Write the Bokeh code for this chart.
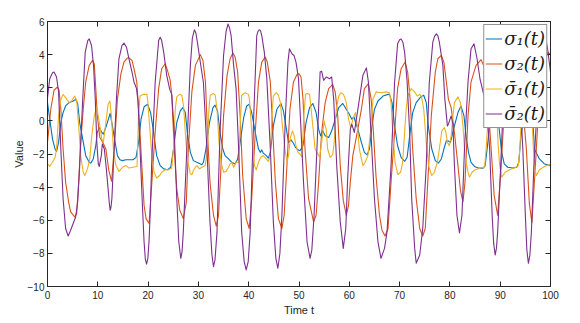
from bokeh.plotting import figure
from bokeh.models import LinearAxis, Range1d, FixedTicker, Legend, LegendItem
from bokeh.embed import file_html
from bokeh.resources import INLINE

# ---------------- data ----------------
t_sig1 = [0.0, 0.45, 1.0, 1.5, 1.8, 2.2, 2.65, 3.1, 3.6, 4.3, 5.1, 5.6, 6.0, 6.4, 7.0, 7.6, 8.3, 8.6, 9.1, 9.6,
          9.9, 10.3, 10.8, 11.1, 11.7, 12.45, 12.9, 13.45, 13.9, 14.4, 14.9, 15.6, 16.2, 17.0, 17.6, 18.1, 18.6, 19.2, 19.9, 20.5,
          21.1, 21.7, 22.4, 23.1, 23.9, 24.5, 25.05, 25.7, 26.4, 26.9, 27.4, 27.8, 28.4, 29.0, 30.0, 30.7, 31.0, 31.5, 32.2, 32.9,
          33.3, 33.8, 34.3, 34.85, 35.3, 36.0, 36.6, 37.3, 37.8, 38.3, 39.0, 39.6, 40.1, 40.6, 41.3, 41.95, 42.3, 42.6, 42.9, 43.5,
          43.9, 44.3, 44.9, 45.6, 46.4, 46.9, 47.5, 47.9, 48.4, 48.9, 49.3, 49.8, 50.2, 50.8, 51.4, 52.1, 52.75, 53.4, 53.9, 54.3,
          54.7, 55.2, 55.9, 56.5, 57.2, 57.9, 58.7, 59.4, 60.0, 60.5, 60.9, 61.7, 62.4, 63.0, 63.55, 64.0, 64.5, 65.0, 65.7, 66.7,
          67.7, 68.0, 68.5, 69.0, 69.6, 70.3, 71.0, 71.5, 72.0, 72.6, 73.3, 74.2, 74.8, 75.3, 75.7, 76.4, 77.1, 77.7, 78.3, 78.8,
          79.3, 79.6, 80.1, 80.9, 81.6, 82.2, 82.8, 83.2, 83.7, 84.2, 84.9, 85.6, 86.6, 87.0, 87.4, 88.0, 88.6, 89.2, 89.8, 90.3,
          90.8, 91.5, 92.5, 93.3, 93.7, 94.1, 94.7, 95.4, 95.9, 96.4, 96.8, 97.8, 98.8, 100.0]
sig1 = [1.1, 0.1, -1.1, -1.7, -1.85, -1.3, -0.1, 0.5, 0.9, 1.1, 1.2, 1.3, 1.05, -0.1, -1.1, -2.1, -2.5, -2.55, -2.3, -1.5,
        -0.7, -0.4, -0.7, -0.8, -0.3, 0.45, -0.3, -1.3, -2.1, -2.35, -2.4, -2.35, -2.35, -2.35, -2.2, -1.3, 0.1, 0.85, 1.0, 0.5,
        -0.7, -2.1, -2.7, -2.9, -2.95, -2.8, -1.7, -0.1, 0.6, 0.8, 0.5, -0.7, -1.9, -2.4, -2.55, -2.65, -2.5, -1.7, -0.1, 0.8,
        0.95, 0.6, -0.7, -1.7, -2.1, -2.3, -2.5, -2.6, -2.3, -1.3, 0.2, 0.9, 1.0, 0.5, -0.7, -1.7, -1.9, -1.75, -1.95, -2.1,
        -2.25, -1.9, -0.3, 0.7, 1.05, 0.6, -0.5, -1.3, -1.15, -1.35, -1.6, -1.75, -1.8, -1.5, -0.1, 0.8, 1.05, 0.5, -0.5, -0.9,
        -0.6, -0.9, -1.0, -0.6, 0.1, 0.8, 1.05, 0.7, 0.4, 0.1, 0.25, -0.5, -1.3, -1.9, -2.05, -1.7, -0.3, 0.7, 1.2, 1.5,
        1.6, 1.6, 1.1, -0.3, -1.5, -2.2, -2.45, -2.2, -0.9, 0.5, 1.1, 1.45, 1.55, 1.1, -0.3, -1.7, -2.4, -2.55, -2.3, -1.7,
        -1.2, -1.2, -1.3, -0.3, 0.5, 0.9, 0.3, -0.9, -1.9, -2.5, -2.75, -2.85, -2.85, -2.7, -1.7, 0.0, 0.8, 1.0, -0.5, -1.9,
        -2.6, -2.8, -2.85, -2.8, -2.5, -1.0, 0.3, 0.9, 1.0, 0.5, -1.7, -2.3, -2.6, -2.7]

t_sig2 = [0.0, 0.65, 1.3, 2.0, 2.3, 2.65, 3.1, 3.6, 4.2, 4.6, 5.4, 5.8, 6.2, 6.6, 7.1, 7.6, 8.3, 8.95, 9.3, 9.6,
          9.9, 10.4, 11.0, 11.6, 12.2, 12.75, 13.25, 13.9, 14.6, 15.2, 15.9, 16.2, 16.8, 17.2, 17.75, 18.2, 18.75, 19.2, 19.6, 20.2,
          20.75, 21.4, 22.1, 22.7, 23.4, 23.85, 24.4, 24.7, 25.2, 25.7, 26.3, 27.0, 27.6, 28.0, 28.7, 29.4, 30.4, 30.9, 31.4, 31.8,
          32.3, 33.0, 33.55, 34.0, 34.5, 35.0, 35.7, 36.3, 36.85, 37.3, 37.8, 38.3, 38.8, 39.5, 40.1, 40.6, 41.3, 41.95, 42.6, 43.3,
          43.7, 44.3, 44.8, 45.3, 45.9, 46.6, 47.05, 47.6, 48.2, 48.9, 49.6, 50.0, 50.4, 50.8, 51.2, 51.9, 52.9, 53.4, 53.9, 54.5,
          55.2, 55.9, 56.7, 57.2, 57.7, 58.2, 58.8, 59.4, 59.85, 60.2, 60.7, 61.2, 61.7, 62.4, 63.0, 63.8, 64.35, 64.8, 65.3, 66.0,
          66.5, 67.1, 67.7, 68.3, 69.0, 69.6, 70.3, 71.1, 71.6, 72.1, 72.6, 73.3, 74.0, 74.6, 75.1, 75.6, 76.3, 77.1, 77.6, 78.3,
          78.8, 79.3, 79.7, 80.25, 80.9, 81.6, 82.1, 82.6, 83.0, 83.6, 84.2, 85.2, 86.2, 86.9, 87.5, 88.2, 88.8, 89.5, 90.2, 90.6,
          91.2, 92.0, 92.8, 93.4, 94.0, 94.6, 95.2, 95.8, 96.3, 97.0, 97.4, 98.2, 99.0, 99.5, 100.0]
sig2 = [-1.3, 0.7, 1.85, 2.05, 1.85, 0.7, -1.7, -3.7, -4.9, -5.5, -5.8, -5.6, -3.7, -1.3, 0.7, 2.35, 3.35, 3.65, 3.45, 1.95,
        0.3, -1.0, -1.3, -1.7, -3.0, -3.65, -1.7, 1.3, 2.85, 3.55, 3.8, 3.8, 3.65, 3.15, 2.35, 0.3, -2.7, -5.1, -5.9, -6.2,
        -3.7, -0.7, 1.95, 3.15, 3.45, 3.05, 2.45, 1.55, -1.7, -4.1, -5.4, -5.9, -4.9, -1.7, 1.75, 3.35, 4.0, 3.65, 2.35, -0.7,
        -3.7, -5.7, -6.35, -5.7, -2.7, 0.3, 2.75, 3.75, 4.1, 3.85, 2.95, 0.3, -3.3, -5.9, -6.5, -4.7, -0.7, 2.35, 3.55, 3.85,
        3.55, 2.35, -0.7, -3.7, -5.9, -6.5, -5.7, -2.7, 0.7, 2.35, 2.8, 2.85, 2.65, 1.3, -1.7, -4.7, -6.1, -5.7, -3.7, -0.7,
        1.1, 1.95, 2.2, 1.75, 0.3, -2.7, -4.8, -5.7, -5.1, -3.7, -2.1, -1.3, -0.5, 0.7, 1.95, 2.25, 1.3, -0.7, -3.3, -5.7,
        -6.6, -6.95, -6.5, -3.7, -0.7, 1.95, 3.15, 3.55, 2.95, 1.3, -1.7, -4.7, -6.5, -6.95, -6.5, -3.7, 0.3, 2.95, 3.75, 3.95,
        3.55, 2.35, 1.3, 0.8, -0.7, -2.7, -4.2, -4.9, -3.7, 0.3, 2.35, 3.35, 3.7, 3.2, 1.5, -1.7, -4.5, -5.7, -2.7, -0.5,
        2.0, 3.4, 3.9, 3.6, 2.5, 0.5, -1.7, -5.0, -6.15, -2.7, -0.5, 2.3, 3.7, 4.15, 4.0]

t_sig1bar = [0.0, 0.45, 1.0, 1.5, 1.8, 2.2, 2.65, 3.1, 3.6, 4.3, 4.8, 5.4, 5.8, 6.2, 6.6, 7.1, 7.4, 7.95, 8.4, 8.8,
             9.3, 9.8, 10.4, 10.8, 11.1, 11.6, 12.05, 12.4, 12.7, 13.1, 13.6, 14.25, 14.9, 15.6, 16.2, 17.0, 17.8, 18.1, 18.4, 19.0,
             19.75, 19.9, 20.3, 20.75, 21.2, 21.7, 22.3, 22.7, 23.4, 24.1, 24.7, 25.05, 25.4, 25.7, 26.25, 26.7, 27.05, 27.4, 27.8, 28.4,
             28.7, 29.0, 29.4, 29.7, 30.2, 30.7, 31.35, 31.8, 32.1, 32.35, 33.0, 33.35, 33.7, 34.1, 34.5, 35.0, 35.5, 36.0, 36.3, 36.65,
             37.0, 37.5, 38.0, 38.3, 38.6, 39.3, 39.95, 40.1, 40.4, 40.8, 41.15, 41.5, 41.95, 42.4, 42.9, 43.5, 43.9, 44.3, 44.6, 44.9,
             45.5, 45.9, 46.3, 46.7, 47.2, 47.6, 47.9, 48.3, 48.7, 49.05, 49.4, 49.8, 50.2, 50.6, 50.95, 51.3, 51.6, 52.1, 52.55, 53.2,
             54.1, 54.75, 55.0, 55.4, 55.7, 56.2, 56.7, 57.0, 57.4, 57.9, 58.3, 58.85, 59.4, 59.85, 60.3, 60.8, 61.2, 61.6, 62.0, 62.7,
             63.15, 63.7, 64.2, 64.7, 65.35, 66.3, 67.3, 68.0, 68.3, 68.65, 69.1, 69.65, 70.2, 70.6, 71.0, 71.3, 71.6, 72.3, 73.0, 73.5,
             74.0, 74.4, 74.8, 75.3, 75.75, 76.4, 76.9, 77.5, 77.9, 78.4, 78.9, 79.2, 79.5, 79.9, 80.25, 80.6, 80.9, 81.6, 82.1, 82.6,
             83.0, 83.6, 83.9, 84.4, 85.0, 85.55, 86.1, 86.9, 87.2, 87.5, 87.8, 88.3, 89.0, 89.3, 89.6, 89.9, 90.3, 91.0, 91.85, 92.85,
             93.6, 93.9, 94.3, 94.8, 95.8, 96.3, 96.6, 96.9, 97.2, 97.8, 98.8, 100.0]
sig1bar = [-2.6, -2.75, -2.5, -2.2, -1.7, 0.3, 1.3, 1.6, 1.4, 1.1, 1.2, 1.5, 1.2, -0.3, -2.1, -3.1, -3.3, -2.9, -2.3, -0.9,
           0.3, 0.85, -0.3, -1.1, -1.3, -0.1, 1.0, 1.2, 0.3, -1.7, -2.7, -3.05, -2.8, -2.7, -2.85, -2.8, -2.75, 0.3, 1.5, 1.6,
           1.6, 1.3, -0.3, -2.1, -3.1, -3.45, -3.3, -3.1, -2.95, -2.95, -2.85, -1.7, 0.7, 1.45, 1.6, 1.55, 0.9, -0.7, -2.3, -3.2,
           -3.25, -3.0, -2.8, -2.7, -2.9, -2.8, -2.7, -1.7, 0.7, 1.55, 1.65, 1.55, 0.7, -1.3, -2.5, -3.1, -3.05, -2.8, -2.6, -2.5,
           -2.8, -2.5, -2.5, -0.3, 1.55, 1.7, 1.6, 1.4, 0.3, -1.7, -2.7, -2.95, -2.5, -2.2, -2.1, -2.3, -2.45, -2.1, 0.3, 1.5,
           1.7, 1.55, 1.1, -0.3, -1.7, -2.5, -2.1, -1.0, -0.6, -0.9, -1.5, -1.9, -2.0, -2.2, 0.3, 1.6, 1.65, 1.6, 0.3, -1.7,
           -2.2, -0.7, 0.0, -0.5, -1.7, -2.2, -2.05, -1.3, 0.7, 1.5, 1.7, 1.6, 1.1, 0.1, -0.4, 0.2, 0.5, -0.3, -1.7, -2.7,
           -2.5, -2.1, -0.7, 1.3, 1.75, 1.7, 1.75, 1.7, 1.1, -0.7, -2.5, -3.25, -3.1, -2.5, -0.7, 0.7, 1.5, 1.95, 1.75, 1.5,
           1.6, 1.4, 0.7, -1.3, -2.7, -3.3, -3.1, -2.5, -1.7, -0.6, -0.4, -0.7, -1.3, -1.5, -0.9, 0.3, 1.1, 1.45, 1.1, -0.3,
           -2.1, -3.1, -3.4, -3.1, -2.95, -2.9, -2.85, -2.8, -1.7, -0.3, 1.3, 1.6, 1.6, 0.5, -1.5, -2.7, -3.4, -3.1, -2.95, -2.85,
           -2.7, -1.7, 0.8, 1.6, 1.6, 0.5, -1.7, -2.9, -3.3, -2.95, -2.75, -2.6]

t_sig2bar = [0.0, 0.45, 1.0, 1.3, 1.8, 2.2, 2.65, 3.1, 3.6, 4.1, 4.6, 5.1, 5.6, 6.0, 6.4, 7.0, 7.5, 8.0, 8.3, 8.75,
             9.15, 9.5, 9.8, 10.1, 10.3, 10.7, 10.9, 11.3, 11.7, 12.1, 12.3, 12.45, 12.6, 12.8, 13.25, 13.7, 14.2, 14.8, 15.2, 15.7,
             16.2, 16.8, 17.2, 17.7, 18.0, 18.4, 18.9, 19.2, 19.45, 19.7, 19.95, 20.2, 20.45, 20.7, 21.4, 22.1, 22.4, 22.7, 23.1, 23.7,
             24.3, 24.7, 25.2, 25.7, 26.1, 26.5, 26.75, 27.0, 27.7, 28.4, 28.8, 29.2, 29.5, 29.8, 30.5, 31.0, 31.7, 32.3, 32.7, 33.0,
             33.3, 33.7, 34.3, 35.0, 35.5, 35.9, 36.2, 36.5, 37.0, 37.5, 38.0, 38.6, 39.1, 39.5, 39.9, 40.3, 41.0, 41.6, 41.85, 42.1,
             42.35, 42.6, 43.1, 43.6, 44.3, 44.9, 45.4, 45.8, 46.2, 46.6, 47.3, 47.8, 48.1, 48.6, 49.0, 49.4, 49.9, 50.2, 50.9, 51.6,
             52.2, 52.55, 53.0, 53.7, 54.2, 54.5, 54.9, 55.4, 56.1, 56.5, 56.9, 57.5, 58.2, 58.8, 59.3, 59.7, 60.2, 60.5, 61.0, 62.0,
             62.7, 63.4, 63.8, 64.3, 65.0, 65.7, 66.3, 67.0, 67.5, 68.3, 69.0, 69.6, 70.0, 70.3, 70.65, 71.0, 71.5, 72.0, 72.4, 73.0,
             73.3, 74.0, 74.6, 75.3, 75.9, 76.6, 76.95, 77.3, 77.6, 77.9, 78.6, 79.0, 79.5, 79.7, 80.25, 80.6, 80.9, 81.4, 81.9, 82.4,
             82.9, 83.6, 84.2, 84.8, 85.4, 86.0, 86.8, 87.4, 87.9, 88.4, 88.7, 89.0, 89.25, 89.5, 90.1, 90.4, 91.0, 91.6, 92.2, 92.8,
             93.4, 94.0, 94.5, 95.0, 95.3, 95.6, 95.9, 96.2, 96.7, 97.1, 97.8, 98.5, 99.0, 99.4, 100.0]
sig2bar = [1.4, 2.55, 2.9, 2.95, 2.65, 1.75, -1.7, -4.7, -6.5, -6.95, -6.6, -6.2, -5.8, -4.9, -2.7, 1.3, 4.15, 4.85, 4.95, 4.55,
           3.35, 1.3, -1.3, -2.6, -2.75, -2.1, -1.4, -1.7, -2.9, -4.3, -5.0, -5.4, -5.25, -4.7, -1.7, 1.3, 3.75, 4.55, 4.7, 4.45,
           3.75, 2.95, 2.35, 1.95, 1.15, -1.7, -5.3, -7.3, -8.35, -8.65, -8.3, -7.2, -5.3, -2.7, 2.3, 4.85, 5.05, 4.85, 4.15, 2.75,
           1.9, 1.6, -0.7, -4.7, -7.3, -8.3, -7.9, -6.7, -1.7, 3.35, 5.0, 5.5, 5.3, 4.75, 3.3, 2.3, -1.7, -6.1, -8.1, -8.8,
           -8.4, -6.7, -0.7, 3.95, 5.4, 5.85, 5.6, 5.15, 3.35, 1.9, -1.7, -6.7, -8.5, -9.0, -8.5, -6.7, 0.3, 5.15, 5.4, 5.5,
           5.45, 5.15, 4.15, 2.55, -1.7, -6.1, -8.3, -8.9, -8.0, -5.7, 0.3, 3.55, 4.35, 4.05, 3.95, 3.55, 2.55, 0.7, -3.7, -7.3,
           -8.3, -7.8, -5.7, -0.7, 2.95, 3.0, 2.45, 2.65, 2.55, 2.65, 1.3, -2.7, -6.1, -7.7, -6.5, -3.3, -0.5, -0.2, -0.7, 1.3,
           2.75, 3.2, 2.35, -0.7, -4.7, -7.3, -8.3, -7.7, -6.7, -2.7, 2.3, 4.65, 4.9, 4.95, 4.75, 4.15, 2.35, -0.7, -4.7, -7.7,
           -8.6, -8.1, -6.5, -2.7, 2.3, 4.75, 5.1, 5.25, 5.15, 4.75, 3.35, 1.3, -0.3, -0.2, 0.3, -0.2, -2.7, -5.7, -6.76, -5.7,
           -1.7, 2.35, 4.35, 4.65, 3.75, 2.5, 1.5, 0.5, -1.7, -5.7, -7.4, -8.1, -7.7, -6.7, -2.7, -0.5, 3.5, 5.1, 4.8, 3.6,
           2.4, 1.2, -1.7, -5.7, -7.8, -8.6, -8.1, -6.7, -2.7, -0.5, 4.0, 5.3, 5.1, 4.4, 2.95]

x_ticks = [0, 10, 20, 30, 40, 50, 60, 70, 80, 90, 100]
y_ticks = [-10, -8, -6, -4, -2, 0, 2, 4, 6]
series_labels = ["\u03c3\u2081(t)", "\u03c3\u2082(t)", "\u03c3\u0304\u2081(t)", "\u03c3\u0304\u2082(t)"]
series_colors = ["#0072BD", "#D95319", "#EDB120", "#7E2F8E"]

# ---------------- figure ----------------
AX = "#262626"
p = figure(width=580, height=323, x_range=Range1d(0, 100), y_range=Range1d(-10, 6),
           output_backend="svg", toolbar_location=None,
           min_border_left=47, min_border_right=30, min_border_top=21, min_border_bottom=37)
p.grid.visible = False
p.outline_line_color = AX
p.outline_line_width = 1
p.background_fill_color = "white"
p.border_fill_color = "white"

for ax in (p.xaxis[0], p.yaxis[0]):
    ax.major_tick_in = 5
    ax.major_tick_out = 0
    ax.minor_tick_line_color = None
    ax.axis_line_color = AX
    ax.major_tick_line_color = AX
    ax.major_label_text_color = AX
    ax.major_label_text_font = "Liberation Sans"
    ax.major_label_text_font_size = "10px"
    ax.major_label_standoff = 4
    ax.axis_label_text_font = "Liberation Sans"
    ax.axis_label_text_font_size = "11px"
    ax.axis_label_text_font_style = "normal"
    ax.axis_label_text_color = AX
    ax.axis_label_standoff = 2

p.yaxis[0].major_label_standoff = 3
p.yaxis[0].axis_label_standoff = 0

p.xaxis[0].ticker = FixedTicker(ticks=x_ticks)
p.yaxis[0].ticker = FixedTicker(ticks=y_ticks)
p.xaxis[0].axis_label = "Time t"
p.yaxis[0].axis_label = "Value"

for loc, ticks in (("above", x_ticks), ("right", y_ticks)):
    a = LinearAxis(ticker=FixedTicker(ticks=ticks))
    a.major_tick_in = 5
    a.major_tick_out = 0
    a.minor_tick_line_color = None
    a.major_label_text_color = None
    a.major_label_text_font_size = "8px"
    a.major_label_standoff = 0
    a.axis_line_color = AX
    a.major_tick_line_color = AX
    p.add_layout(a, loc)

renderers = []
for tt, vv, c in ((t_sig1, sig1, series_colors[0]), (t_sig2, sig2, series_colors[1]),
                  (t_sig1bar, sig1bar, series_colors[2]), (t_sig2bar, sig2bar, series_colors[3])):
    renderers.append(p.line(tt, vv, line_color=c, line_width=1.1, line_join="round"))

legend = Legend(items=[LegendItem(label=l, renderers=[r]) for l, r in zip(series_labels, renderers)],
                location="top_right")
legend.label_text_font = "DejaVu Serif"
legend.label_text_font_style = "italic"
legend.label_text_font_size = "18px"
legend.label_text_color = "#1a1a1a"
legend.label_height = 25
legend.glyph_height = 25
legend.glyph_width = 17
legend.label_standoff = 2
legend.spacing = 0
legend.padding = 1
legend.margin = 3
legend.border_line_color = AX
legend.border_line_width = 1
legend.background_fill_color = "white"
legend.background_fill_alpha = 1.0
p.add_layout(legend)

open("out.html", "w").write(file_html(p, INLINE))
